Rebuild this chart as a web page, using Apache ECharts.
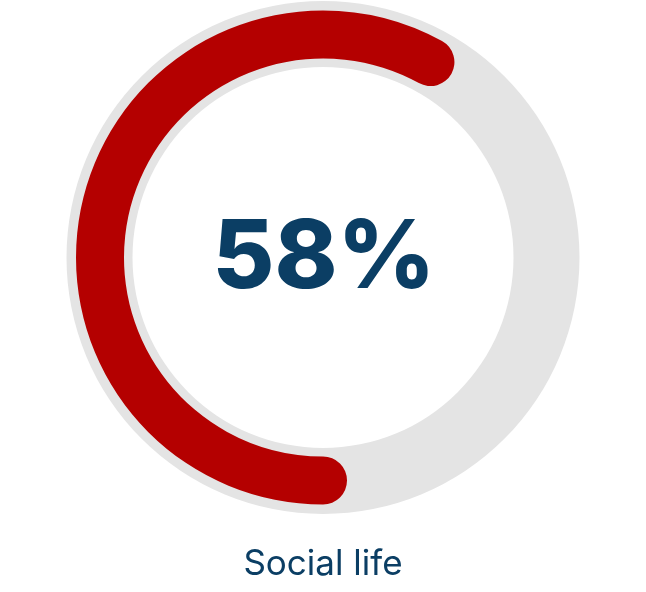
<!DOCTYPE html>
<html>
<head>
<meta charset="utf-8">
<script src="https://cdn.jsdelivr.net/npm/echarts@6/dist/echarts.min.js"></script>
<style>
  html, body { margin: 0; padding: 0; background: #fff; }
  #chart { width: 646px; height: 592px; }
</style>
</head>
<body>
<div id="chart"></div>
<script>
// data
var labels = ['Social life'];
var values = [58];
var maxValue = 100;

var navy = '#0b3e64';
var red = '#b40000';
var grey = '#e4e4e4';

var chart = echarts.init(document.getElementById('chart'));

var option = {
  backgroundColor: '#fff',
  series: [
    // grey track
    {
      type: 'gauge',
      center: [323, 257.5],
      radius: 256.5,
      startAngle: 270,
      endAngle: -90,
      min: 0,
      max: maxValue,
      silent: true,
      axisLine: { lineStyle: { width: 66, color: [[1, grey]] } },
      axisTick: { show: false },
      splitLine: { show: false },
      axisLabel: { show: false },
      pointer: { show: false },
      title: { show: false },
      detail: { show: false },
      data: [{ value: 0 }]
    },
    // red progress
    {
      type: 'gauge',
      center: [323, 257.5],
      radius: 247,
      startAngle: 270,
      endAngle: -90,
      min: 0,
      max: maxValue,
      axisLine: { show: false, lineStyle: { width: 48 } },
      progress: {
        show: true,
        width: 48,
        roundCap: true,
        itemStyle: { color: red }
      },
      axisTick: { show: false },
      splitLine: { show: false },
      axisLabel: { show: false },
      pointer: { show: false },
      anchor: { show: false },
      title: {
        offsetCenter: [0, 307],
        fontFamily: 'Inter',
        fontSize: 35,
        color: navy
      },
      detail: {
        offsetCenter: [1, 2],
        formatter: '{value}%',
        fontFamily: 'Inter',
        fontWeight: 800,
        fontSize: 95,
        color: navy
      },
      data: labels.map(function (n, i) { return { name: n, value: values[i] }; })
    }
  ]
};

chart.setOption(option);
</script>
</body>
</html>
